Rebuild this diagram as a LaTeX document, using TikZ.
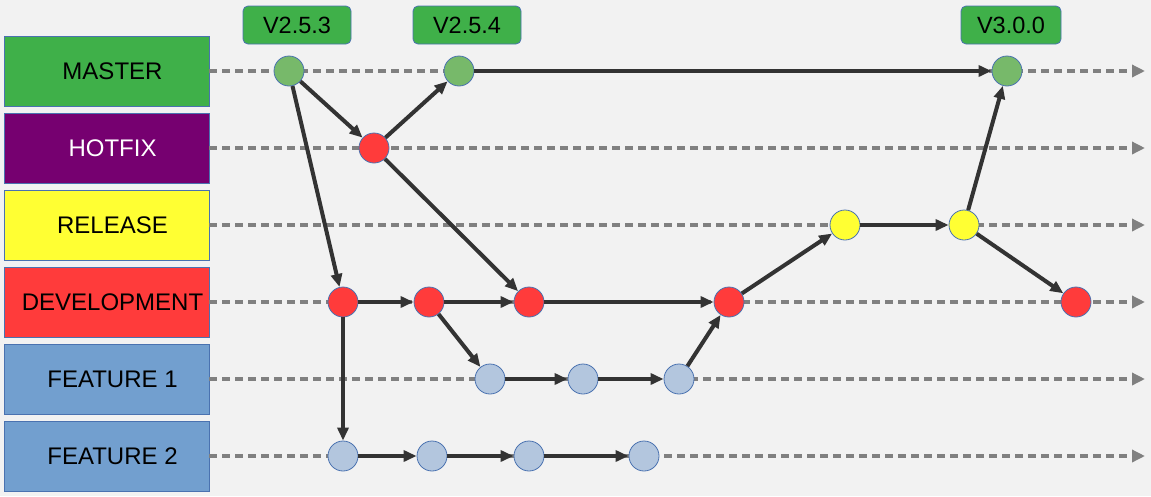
\documentclass[tikz,border=0pt]{standalone}
\usepackage{fontspec}
\setmainfont{Liberation Sans}
\usetikzlibrary{arrows.meta}
\definecolor{bggray}{HTML}{F2F2F2}
\definecolor{rim}{HTML}{4A72B0}
\definecolor{tagfill}{HTML}{3FB049}
\definecolor{masterfill}{HTML}{3FB049}
\definecolor{hotfixfill}{HTML}{760070}
\definecolor{releasefill}{HTML}{FFFF33}
\definecolor{devfill}{HTML}{FF3B3B}
\definecolor{featfill}{HTML}{729FCF}
\definecolor{mcommit}{HTML}{77B96A}
\definecolor{fcommit}{HTML}{B3C6DE}
\definecolor{lanegray}{HTML}{808080}
\definecolor{inkline}{HTML}{333333}

\begin{document}
\begin{tikzpicture}[x=1pt,y=-1pt]
\tikzstyle{lanebox}=[rectangle,draw=rim,line width=0.8pt,minimum width=205pt,minimum height=70pt,inner sep=0pt,font=\fontsize{24}{28}\selectfont,execute at begin node=\hspace*{12pt}]
\tikzstyle{tag}=[rectangle,rounded corners=5pt,fill=tagfill,draw=rim,line width=0.8pt,minimum width=108pt,minimum height=38pt,inner sep=0pt,font=\fontsize{23.5}{28}\selectfont]
\tikzstyle{commit}=[circle,draw=rim,line width=0.8pt,minimum size=30pt,inner sep=0pt]
\tikzstyle{lane}=[draw=lanegray,line width=3.8pt,dash pattern=on 8pt off 5pt,-{Triangle[length=13pt,width=12pt]}]
\tikzstyle{edge}=[draw=inkline,line width=4pt,-{Triangle[length=13pt,width=11pt]}]
\def \xend {1145}
\fill[bggray] (0,0) rectangle (1151,496);
\useasboundingbox (0,0) rectangle (1151,496);
% branch names
\node[lanebox,fill=masterfill] (master) at (106.5,71) {MASTER};
\node[lanebox,fill=hotfixfill,text=white] (hotfix) at (106.5,148) {HOTFIX};
\node[lanebox,fill=releasefill] (release) at (106.5,225) {RELEASE};
\node[lanebox,fill=devfill] (dev) at (106.5,302) {DEVELOPMENT};
\node[lanebox,fill=featfill] (feat1) at (106.5,379) {FEATURE 1};
\node[lanebox,fill=featfill] (feat2) at (106.5,456) {FEATURE 2};
% lanes
\coordinate (masterend) at (\xend,71);
\coordinate (hotfixend) at (\xend,148);
\coordinate (releaseend) at (\xend,225);
\coordinate (devend) at (\xend,302);
\coordinate (feat1end) at (\xend,379);
\coordinate (feat2end) at (\xend,456);
\path[lane] (master.east) -- (masterend);
\path[lane] (hotfix.east) -- (hotfixend);
\path[lane] (release.east) -- (releaseend);
\path[lane] (dev.east) -- (devend);
\path[lane] (feat1.east) -- (feat1end);
\path[lane] (feat2.east) -- (feat2end);
% tags
\node[tag] (t1) at (297,25) {V2.5.3};
\node[tag] (t2) at (467,25) {V2.5.4};
\node[tag,minimum width=100pt] (t3) at (1011,25) {V3.0.0};
% commits
\node[commit,fill=mcommit] (m1) at (289,71) {};
\node[commit,fill=mcommit] (m2) at (459,71) {};
\node[commit,fill=mcommit] (m3) at (1007,71) {};
\node[commit,fill=devfill] (h1) at (374,148) {};
\node[commit,fill=releasefill] (r1) at (845,225) {};
\node[commit,fill=releasefill] (r2) at (964,225) {};
\node[commit,fill=devfill] (d1) at (343,302) {};
\node[commit,fill=devfill] (d2) at (429,302) {};
\node[commit,fill=devfill] (d3) at (529,302) {};
\node[commit,fill=devfill] (d4) at (729,302) {};
\node[commit,fill=devfill] (d5) at (1076,302) {};
\node[commit,fill=fcommit] (f1) at (490,379) {};
\node[commit,fill=fcommit] (f2) at (583,379) {};
\node[commit,fill=fcommit] (f3) at (679,379) {};
\node[commit,fill=fcommit] (g1) at (343,456) {};
\node[commit,fill=fcommit] (g2) at (432,456) {};
\node[commit,fill=fcommit] (g3) at (529,456) {};
\node[commit,fill=fcommit] (g4) at (644,456) {};
% merges
\path[edge] (m1) -- (h1);
\path[edge] (m1) -- (d1);
\path[edge] (h1) -- (m2);
\path[edge] (h1) -- (d3);
\path[edge] (m2) -- (m3);
\path[edge] (d1) -- (d2);
\path[edge] (d2) -- (d3);
\path[edge] (d3) -- (d4);
\path[edge] (d1) -- (g1);
\path[edge] (d2) -- (f1);
\path[edge] (f1) -- (f2);
\path[edge] (f2) -- (f3);
\path[edge] (f3) -- (d4);
\path[edge] (d4) -- (r1);
\path[edge] (r1) -- (r2);
\path[edge] (r2) -- (m3);
\path[edge] (r2) -- (d5);
\path[edge] (g1) -- (g2);
\path[edge] (g2) -- (g3);
\path[edge] (g3) -- (g4);
\end{tikzpicture}
\end{document}
